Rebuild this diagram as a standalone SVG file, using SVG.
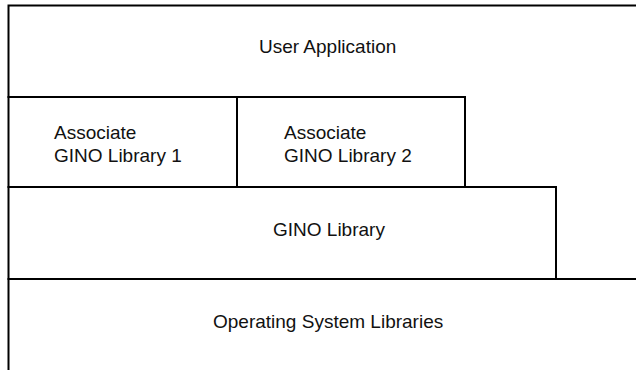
<svg xmlns="http://www.w3.org/2000/svg" width="636" height="370" viewBox="0 0 636 370">
<style>
.ln{stroke:#000;stroke-width:2;fill:none;stroke-linecap:square}
.t{font-family:"Liberation Sans",Arial,sans-serif;font-size:19px;fill:#111}
</style>
<rect width="636" height="370" fill="#fff"/>
<g id="connectors">
<path class="ln" d="M8.5,370 V5.5 H636"/>
<path class="ln" d="M8.5,97 H465 V187"/>
<path class="ln" d="M237,97 V187"/>
<path class="ln" d="M8.5,187 H556 V279"/>
<path class="ln" d="M8.5,279 H636"/>
</g>
<g id="user-application"><text class="t" x="259" y="53">User Application</text></g>
<g id="associate-1"><text class="t" x="54" y="139">Associate</text><text class="t" x="54" y="162">GINO Library 1</text></g>
<g id="associate-2"><text class="t" x="284" y="139">Associate</text><text class="t" x="284" y="162">GINO Library 2</text></g>
<g id="gino-library"><text class="t" x="273" y="236">GINO Library</text></g>
<g id="os-libraries"><text class="t" x="213" y="328">Operating System Libraries</text></g>
</svg>
